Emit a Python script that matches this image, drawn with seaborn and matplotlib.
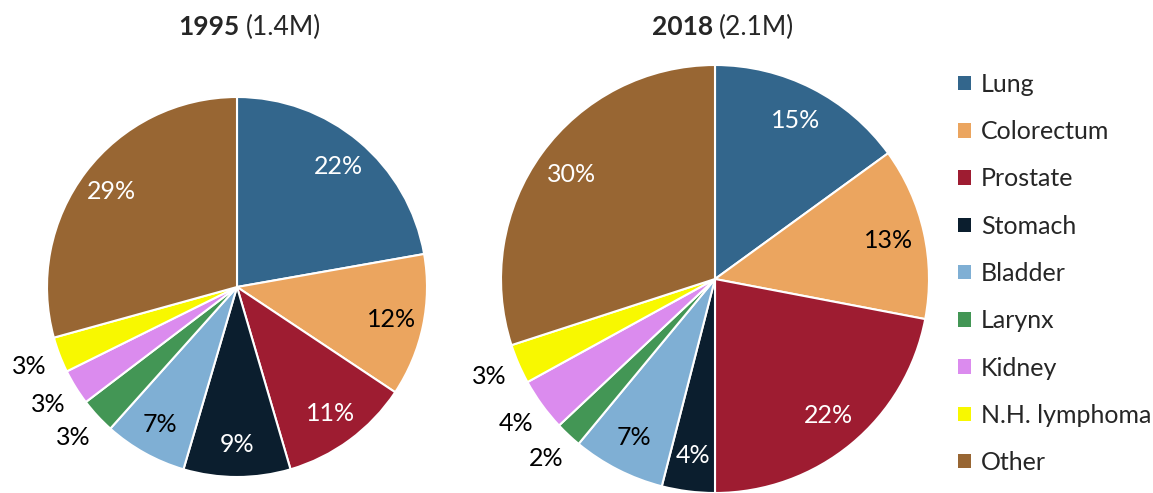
import numpy as np
import matplotlib.pyplot as plt
import seaborn as sns
from matplotlib.patches import Patch

sns.set_style("white")
plt.rcParams['font.family'] = ['Lato', 'DejaVu Sans']

sites = ['Lung', 'Colorectum', 'Prostate', 'Stomach', 'Bladder',
         'Larynx', 'Kidney', 'N.H. lymphoma', 'Other']
share_1995 = [22, 12, 11, 9, 7, 3, 3, 3, 29]
share_2018 = [15, 13, 22, 4, 7, 2, 4, 3, 30]
colors = ['#33668C', '#EBA55F', '#9E1C31', '#0B1E2E', '#7FAFD4',
          '#439655', '#DB8BEE', '#F8F800', '#986633']
text_colors = ['white', 'black', 'white', 'white', 'black',
               'black', 'black', 'black', 'white']
outside = ['Larynx', 'Kidney', 'N.H. lymphoma']

W, H = 1153, 493
fig = plt.figure(figsize=(W / 100, H / 100), dpi=100)


def draw_pie(rect, values, out_r):
    ax = fig.add_axes(rect)
    wedges, _ = ax.pie(values, colors=colors, startangle=90, counterclock=False,
                       wedgeprops=dict(edgecolor='white', linewidth=1.5))
    ax.set_xlim(-1, 1)
    ax.set_ylim(-1, 1)
    ax.set_aspect('equal')
    ax.axis('off')
    for w, v, site, tc in zip(wedges, values, sites, text_colors):
        ang = np.deg2rad((w.theta1 + w.theta2) / 2)
        r = out_r if site in outside else 0.83
        ax.text(r * np.cos(ang), r * np.sin(ang), f'{v}%', color=tc,
                ha='center', va='center', fontsize=18)
    return ax


# axes boxes in pixels: left, top, size
draw_pie([47 / W, 1 - 477 / H, 380 / W, 380 / H], share_1995, 1.17)
draw_pie([501 / W, 1 - 493 / H, 428 / W, 428 / H], share_2018, 1.15)

# titles: bold year + normal total
for x_split, year, total in [(240, '1995', '(1.4M)'), (713, '2018', '(2.1M)')]:
    fig.text(x_split / W, 1 - 27 / H, year, ha='right', va='center',
             fontsize=19, fontweight='bold')
    fig.text((x_split + 6) / W, 1 - 27 / H, total, ha='left', va='center',
             fontsize=19)

handles = [Patch(facecolor=c, edgecolor='none') for c in colors]
fig.legend(handles, sites, loc='upper left', bbox_to_anchor=(948 / W, 1 - 63 / H),
           frameon=False, fontsize=18, handlelength=0.52, handleheight=0.52,
           handletextpad=0.4, labelspacing=0.97, borderaxespad=0)

fig.savefig('out.png', dpi=100)
